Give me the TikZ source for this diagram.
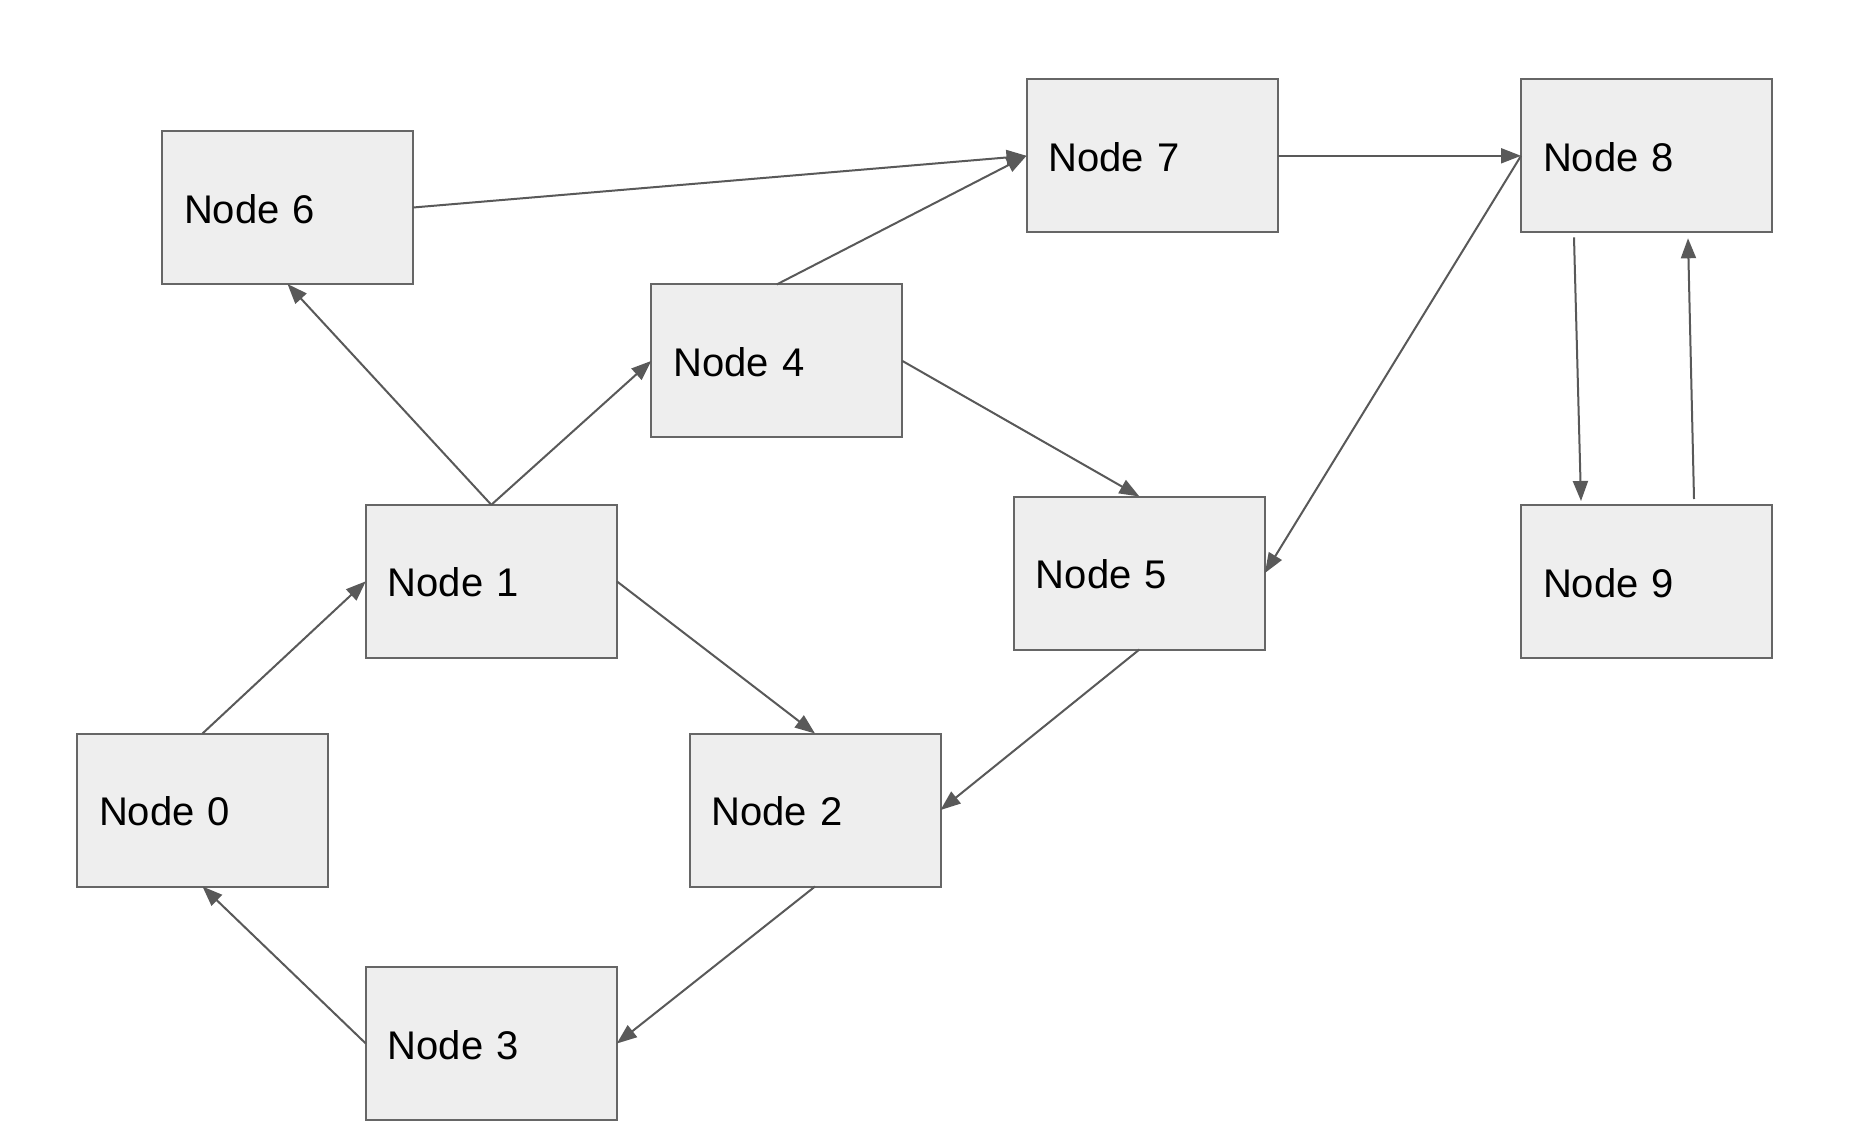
\documentclass[tikz,border=0pt]{standalone}
\usepackage{fontspec}
\setmainfont{Liberation Sans}
\usetikzlibrary{arrows.meta}
\definecolor{boxfill}{HTML}{EEEEEE}
\definecolor{boxline}{HTML}{666666}
\definecolor{linkline}{HTML}{595959}
\begin{document}
\begin{tikzpicture}[x=1pt,y=-1pt,
  box/.style={draw=boxline,fill=boxfill,line width=2pt,rectangle,
    minimum width=251pt,minimum height=153pt,outer sep=0pt,
    inner xsep=22pt,text width=207pt,align=left,
    text height=31pt,text depth=0pt,
    font=\fontsize{40}{48}\selectfont},
  link/.style={draw=linkline,line width=2pt,
    -{Triangle[length=20pt,width=15pt]}}]
\useasboundingbox[fill=white] (0,0) rectangle (1858,1144);

\node[box] (n0) at (202.5,810)   {Node 0};
\node[box] (n1) at (491.3,581.3) {Node 1};
\node[box] (n2) at (815,810)     {Node 2};
\node[box] (n3) at (491.3,1043.5){Node 3};
\node[box] (n4) at (776.8,360.9) {Node 4};
\node[box] (n5) at (1139.4,573)  {Node 5};
\node[box] (n6) at (287.5,207.5) {Node 6};
\node[box] (n7) at (1152,155.8)  {Node 7};
\node[box] (n8) at (1646.5,155.8){Node 8};
\node[box] (n9) at (1646.5,581.5){Node 9};

\draw[link] (n0.north) -- (n1.west);
\draw[link] (n1.north) -- (n4.west);
\draw[link] (n1.north) -- (n6.south);
\draw[link] (n1.east) -- (n2.north);
\draw[link] (n4.north) -- (n7.west);
\draw[link] (n4.east) -- (n5.north);
\draw[link] (n6.east) -- (n7.west);
\draw[link] (n7.east) -- (n8.west);
\draw[link] (n8.west) -- (n5.east);
\draw[link] ([xshift=53pt,yshift=-5pt]n8.south west) -- ([xshift=60pt,yshift=4pt]n9.north west);
\draw[link] ([xshift=173pt,yshift=6pt]n9.north west) -- ([xshift=167pt,yshift=-6pt]n8.south west);
\draw[link] (n5.south) -- (n2.east);
\draw[link] (n2.south) -- (n3.east);
\draw[link] (n3.west) -- (n0.south);
\end{tikzpicture}
\end{document}
